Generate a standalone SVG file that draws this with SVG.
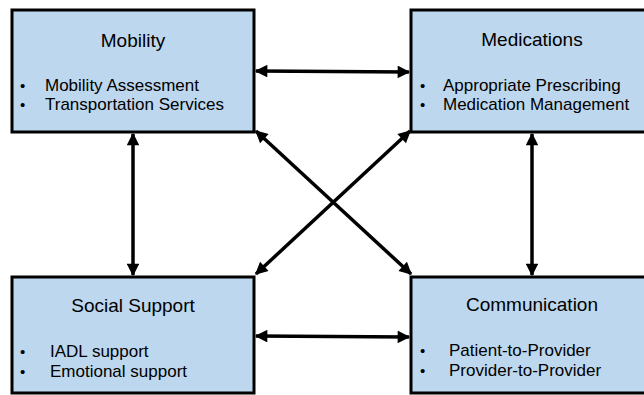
<svg xmlns="http://www.w3.org/2000/svg" width="644" height="395" viewBox="0 0 644 395">
  <style>
    .box { fill: #bdd7ee; stroke: #000; stroke-width: 3; }
    .title { font-family: "Liberation Sans", Arial, sans-serif; font-size: 19px; fill: #000; text-anchor: middle; }
    .item { font-family: "Liberation Sans", Arial, sans-serif; font-size: 17px; fill: #000; }
    .dot { font-family: "Liberation Sans", Arial, sans-serif; font-size: 15px; fill: #000; }
    .link { stroke: #000; stroke-width: 3.5; fill: none; marker-start: url(#head); marker-end: url(#head); }
  </style>
  <defs>
    <marker id="head" viewBox="0 0 10 10" refX="9" refY="5" markerWidth="4" markerHeight="3.6" orient="auto-start-reverse" markerUnits="strokeWidth">
      <path d="M0,0 L10,5 L0,10 z" fill="#000"/>
    </marker>
  </defs>
  <rect width="644" height="395" fill="#fff"/>

  <g id="mobility">
    <rect class="box" x="12" y="10" width="242" height="122"/>
    <text class="title" x="133" y="47">Mobility</text>
    <text class="dot" x="20" y="91">•</text>
    <text class="item" x="45" y="91">Mobility Assessment</text>
    <text class="dot" x="20" y="110">•</text>
    <text class="item" x="45" y="110">Transportation Services</text>
  </g>

  <g id="medications">
    <rect class="box" x="411" y="10" width="240" height="122"/>
    <text class="title" x="532" y="46">Medications</text>
    <text class="dot" x="420" y="91">•</text>
    <text class="item" x="443" y="91">Appropriate Prescribing</text>
    <text class="dot" x="420" y="110">•</text>
    <text class="item" x="443" y="110">Medication Management</text>
  </g>

  <g id="social-support">
    <rect class="box" x="12" y="277" width="242" height="116"/>
    <text class="title" x="133" y="312">Social Support</text>
    <text class="dot" x="20" y="357">•</text>
    <text class="item" x="50" y="357">IADL support</text>
    <text class="dot" x="20" y="377">•</text>
    <text class="item" x="50" y="377">Emotional support</text>
  </g>

  <g id="communication">
    <rect class="box" x="411" y="277" width="240" height="116"/>
    <text class="title" x="532" y="311">Communication</text>
    <text class="dot" x="420" y="356">•</text>
    <text class="item" x="449" y="356">Patient-to-Provider</text>
    <text class="dot" x="420" y="376">•</text>
    <text class="item" x="449" y="376">Provider-to-Provider</text>
  </g>

  <g id="connectors">
    <line class="link" x1="256" y1="71" x2="409" y2="72"/>
    <line class="link" x1="256" y1="336" x2="409" y2="337"/>
    <line class="link" x1="133" y1="134" x2="133" y2="275"/>
    <line class="link" x1="532" y1="134" x2="532" y2="275"/>
    <line class="link" x1="256" y1="131" x2="411" y2="274"/>
    <line class="link" x1="410" y1="131" x2="256" y2="274"/>
  </g>
</svg>
